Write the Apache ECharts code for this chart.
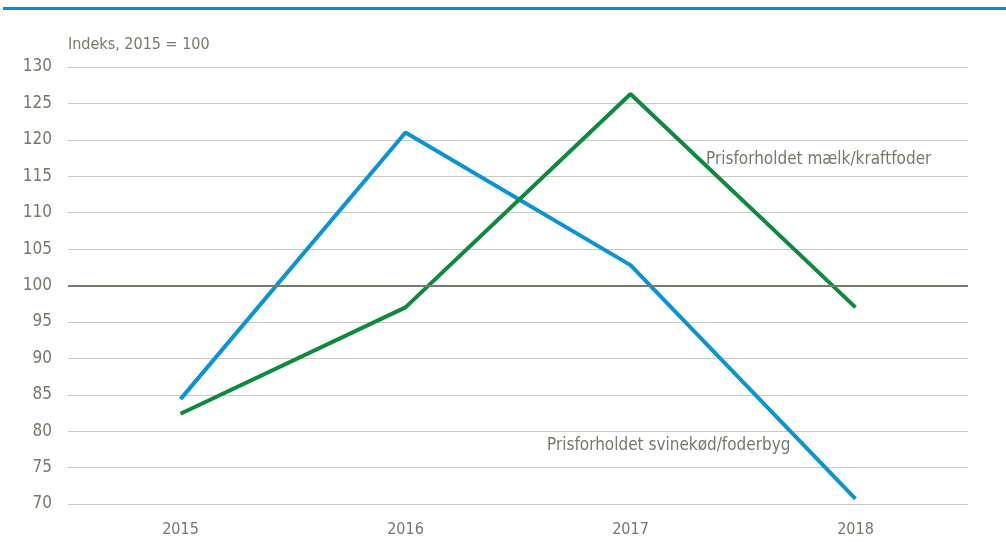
<!DOCTYPE html>
<html lang="da">
<head>
  <meta charset="UTF-8">
  <script src="https://cdn.jsdelivr.net/npm/echarts@6/dist/echarts.min.js"></script>
  <title>Prisforhold</title>
  <style>
    html, body { margin: 0; padding: 0; background: #fff; }
    #topline { position: absolute; left: 3px; right: 0; top: 7px; height: 3px; background: #0a90d2; }
    #chart { width: 1006px; height: 542px; }
  </style>
</head>
<body>
<div id="topline"></div>
<div id="chart"></div>
<script>
  var years = ['2015', '2016', '2017', '2018'];
  var svinekod = [84.4, 121.0, 102.8, 70.7];
  var maelk = [82.4, 97.0, 126.3, 97.0];
  var yTicks = { min: 70, max: 130, step: 5 };

  var font = '"Liberation Sans Narrow", "Arial Narrow", "DejaVu Sans Condensed", sans-serif';
  var txt = '#77776a';

  var chart = echarts.init(document.getElementById('chart'));
  chart.setOption({
    animation: false,
    textStyle: { fontFamily: font },
    grid: { left: 68, right: 38, top: 67, bottom: 38 },
    xAxis: {
      type: 'category',
      data: years,
      boundaryGap: true,
      axisLine: { show: false },
      axisTick: { show: false },
      axisLabel: { color: txt, fontSize: 16, fontFamily: font, margin: 18 }
    },
    yAxis: {
      type: 'value',
      min: yTicks.min,
      max: yTicks.max,
      interval: yTicks.step,
      axisLine: { show: false },
      axisTick: { show: false },
      axisLabel: { color: txt, fontSize: 17, fontFamily: font, margin: 16 },
      splitLine: { lineStyle: { color: '#c9c9bf', width: 1 } }
    },
    graphic: [
      { type: 'text', left: 68, top: 37, style: { text: 'Indeks, 2015 = 100', fill: txt, font: '16px ' + font } },
      { type: 'text', left: 706, top: 151, style: { text: 'Prisforholdet mælk/kraftfoder', fill: txt, font: '17px ' + font } },
      { type: 'text', left: 547, top: 437, style: { text: 'Prisforholdet svinekød/foderbyg', fill: txt, font: '17px ' + font } }
    ],
    series: [
      {
        name: 'Prisforholdet svinekød/foderbyg',
        type: 'line',
        data: svinekod,
        symbol: 'none',
        lineStyle: { color: '#0a93d6', width: 4 },
        markLine: {
          silent: true,
          symbol: 'none',
          label: { show: false },
          lineStyle: { color: '#7a7a6c', width: 2, type: 'solid' },
          data: [{ yAxis: 100 }]
        },
        z: 3
      },
      {
        name: 'Prisforholdet mælk/kraftfoder',
        type: 'line',
        data: maelk,
        symbol: 'none',
        lineStyle: { color: '#0e8a3e', width: 4 },
        z: 3
      }
    ]
  });
</script>
</body>
</html>
